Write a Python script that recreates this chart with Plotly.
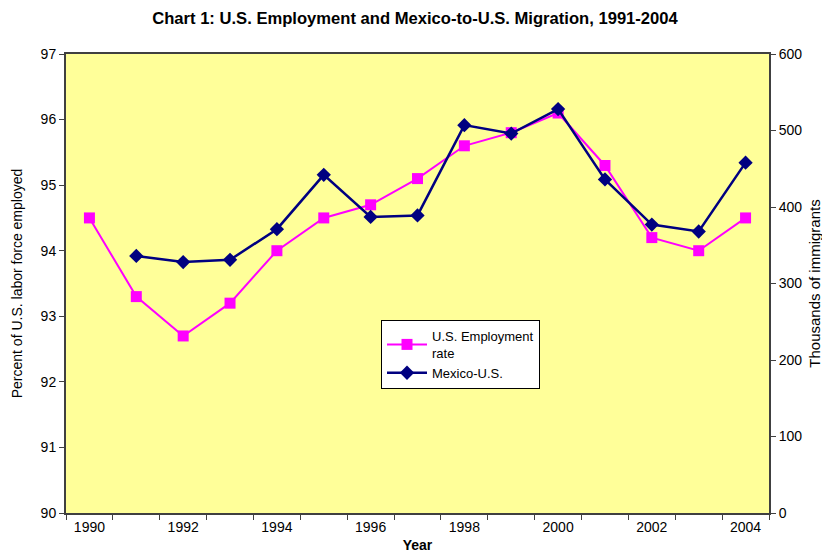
import plotly.graph_objects as go

years = list(range(1990, 2005))
employment = [94.5, 93.3, 92.7, 93.2, 94.0, 94.5, 94.7, 95.1, 95.6, 95.8, 96.1, 95.3, 94.2, 94.0, 94.5]
mig_years = list(range(1991, 2005))
migration = [336, 328, 331, 371, 442, 387, 389, 507, 496, 528, 436, 377, 368, 458]

x_tick_vals = list(range(1990, 2005, 2))
x_tick_text = [str(v) for v in x_tick_vals]
y_left_ticks = list(range(90, 98))
y_right_ticks = list(range(0, 601, 100))

FONT = "Liberation Sans, Arial, sans-serif"
AXIS_COLOR = "#404040"

# page body has an 8px default margin, so the figure is sized to fit the window
W, H = 822, 547

fig = go.Figure()
fig.add_trace(go.Scatter(
    x=years, y=employment, name="U.S. Employment<br>rate",
    mode="lines+markers",
    line=dict(color="#FF00FF", width=2),
    marker=dict(symbol="square", size=11, color="#FF00FF"),
    yaxis="y",
))
fig.add_trace(go.Scatter(
    x=mig_years, y=migration, name="Mexico-U.S.",
    mode="lines+markers",
    line=dict(color="#000080", width=2.5),
    marker=dict(symbol="diamond", size=11, color="#000080"),
    yaxis="y2",
))

fig.update_layout(
    width=W, height=H,
    margin=dict(l=58, r=61, t=46, b=42),
    paper_bgcolor="white",
    plot_bgcolor="#FFFF99",
    font=dict(family=FONT, size=14, color="black"),
    title=dict(
        text="<b>Chart 1: U.S. Employment and Mexico-to-U.S. Migration, 1991-2004</b>",
        x=(415 - 8) / W, xanchor="center", y=1 - 10 / H, yanchor="middle",
        font=dict(family=FONT, size=16.6, color="black"),
    ),
    showlegend=True,
    legend=dict(
        x=(381 - 66) / 703, xanchor="left",
        y=(513 - 320) / 459, yanchor="top",
        bgcolor="white", bordercolor="black", borderwidth=1,
        font=dict(family=FONT, size=13, color="black"),
        tracegroupgap=0,
        itemwidth=40,
    ),
    xaxis=dict(
        range=[1989.5, 2004.5], automargin=False,
        tickmode="array", tickvals=x_tick_vals, ticktext=x_tick_text,
        ticks="", showgrid=False, zeroline=False,
        showline=True, linecolor=AXIS_COLOR, linewidth=2, mirror=True,
        minor=dict(tick0=1989.5, dtick=1, ticks="outside", ticklen=5,
                   tickcolor=AXIS_COLOR, tickwidth=1, showgrid=False),
        tickfont=dict(size=14, color="black"),
        title=dict(text="<b>Year</b>", font=dict(size=14, family=FONT), standoff=6),
    ),
    yaxis=dict(
        range=[90, 97], tickmode="array", tickvals=y_left_ticks, automargin=False,
        ticks="outside", ticklen=5, tickcolor=AXIS_COLOR,
        showgrid=False, zeroline=False,
        showline=True, linecolor=AXIS_COLOR, linewidth=2,
        tickfont=dict(size=14, color="black"),
        title=dict(text="Percent of U.S. labor force employed",
                   font=dict(size=14, family=FONT), standoff=15),
    ),
    yaxis2=dict(
        range=[0, 600], tickmode="array", tickvals=y_right_ticks, automargin=False,
        overlaying="y", side="right",
        ticks="outside", ticklen=5, tickcolor=AXIS_COLOR,
        showgrid=False, zeroline=False,
        showline=True, linecolor=AXIS_COLOR, linewidth=2,
        tickfont=dict(size=14, color="black"),
        title=dict(text="Thousands of immigrants",
                   font=dict(size=15, family=FONT), standoff=8),
    ),
)

fig.write_html("out.html")
